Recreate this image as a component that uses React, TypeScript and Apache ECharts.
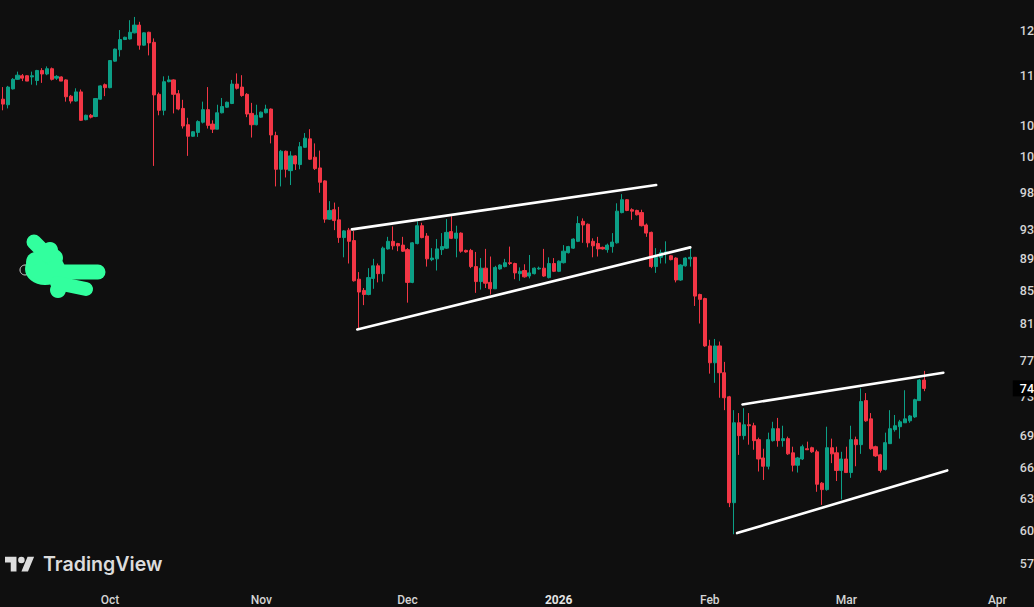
import { useEffect, useRef } from 'react';
import * as echarts from 'echarts';

// daily candles, price in thousands, 9 Sep 2025 to 17 Mar 2026
const opens = [
  112.2, 111.3, 113.9, 115.5, 116.1, 116.1, 115.9, 115.3, 117.0, 116.4,
  117.3, 115.7, 115.9, 115.4, 112.7, 111.9, 113.4, 108.9, 109.6, 109.4,
  112.2, 114.6, 114.1, 118.6, 120.6, 122.4, 122.5, 123.6, 125.0, 121.4,
  123.7, 121.9, 113.0, 110.4, 115.1, 115.4, 113.1, 110.7, 108.1, 106.3,
  106.9, 108.5, 110.5, 108.2, 107.4, 110.0, 110.9, 111.5, 114.7, 114.2,
  113.0, 109.9, 108.1, 109.3, 110.0, 110.6, 106.4, 101.3, 104.0, 101.1,
  103.3, 102.0, 104.6, 105.9, 103.1, 101.5, 99.6, 94.2, 95.5, 94.1,
  91.7, 92.7, 91.3, 86.3, 84.9, 84.4, 86.4, 88.0, 87.0, 90.2,
  91.2, 90.9, 90.7, 90.1, 85.9, 90.9, 93.3, 91.9, 88.8, 88.9,
  90.1, 90.3, 92.5, 91.6, 92.3, 90.0, 90.0, 87.9, 86.0, 87.7,
  85.9, 85.1, 87.6, 87.9, 88.4, 88.3, 87.0, 87.4, 86.7, 87.0,
  87.6, 87.7, 86.5, 88.3, 87.3, 88.4, 89.7, 90.3, 91.2, 93.9,
  93.5, 91.2, 90.9, 90.4, 90.1, 90.5, 91.0, 95.1, 96.9, 95.5,
  95.4, 95.1, 93.4, 92.4, 87.9, 89.1, 89.6, 89.3, 89.0, 86.2,
  88.0, 88.9, 89.1, 84.4, 83.9, 78.3, 76.4, 78.3, 75.3, 72.7,
  62.3, 70.0, 68.7, 69.8, 69.7, 68.3, 66.5, 65.7, 68.2, 69.4,
  68.2, 68.4, 67.0, 65.8, 66.4, 67.4, 67.5, 67.1, 64.1, 63.5,
  67.5, 67.0, 65.3, 66.4, 65.1, 68.3, 67.8, 72.3, 70.4, 67.6,
  66.8, 65.4, 67.9, 69.3, 69.6, 70.0, 70.2, 70.6, 72.3, 74.5,
];
const closes = [
  111.4, 114.2, 115.5, 116.2, 115.7, 115.2, 116.1, 117.0, 116.4, 117.3,
  115.5, 116.0, 115.2, 112.6, 111.9, 113.4, 108.8, 109.6, 109.3, 112.3,
  114.4, 114.1, 118.7, 120.7, 122.4, 122.8, 123.7, 125.0, 121.4, 123.6,
  121.8, 112.9, 110.4, 115.1, 115.4, 113.0, 110.6, 107.9, 106.3, 107.0,
  108.6, 110.5, 108.0, 107.4, 110.0, 111.0, 111.7, 114.7, 114.0, 112.8,
  109.8, 108.1, 109.6, 110.1, 110.6, 106.5, 101.3, 104.0, 101.3, 103.3,
  102.1, 104.7, 106.0, 102.8, 101.4, 99.4, 94.2, 95.4, 94.0, 91.7,
  92.6, 91.2, 86.1, 84.7, 84.4, 86.5, 88.0, 87.0, 90.3, 91.2,
  90.6, 90.6, 89.9, 85.9, 91.0, 93.3, 91.7, 88.9, 89.0, 90.2,
  90.5, 92.4, 91.6, 92.3, 89.9, 89.8, 87.9, 86.0, 87.7, 85.8,
  85.1, 87.8, 88.1, 88.4, 88.3, 87.1, 87.3, 86.6, 87.1, 87.7,
  87.7, 86.7, 88.3, 87.3, 88.6, 89.9, 90.5, 91.5, 93.6, 93.4,
  91.0, 90.6, 90.2, 90.2, 90.7, 91.1, 95.3, 96.9, 95.4, 95.3,
  94.8, 93.3, 92.3, 87.9, 89.1, 89.7, 89.8, 88.8, 86.2, 88.1,
  89.0, 89.1, 84.2, 83.8, 78.3, 76.4, 78.3, 75.3, 72.6, 62.3,
  70.0, 68.7, 69.8, 69.7, 68.2, 66.4, 65.7, 68.3, 69.4, 68.2,
  68.4, 66.9, 65.8, 66.5, 67.6, 67.3, 67.1, 64.0, 63.5, 67.5,
  66.9, 65.3, 66.4, 65.1, 68.3, 67.8, 72.2, 70.2, 67.4, 66.7,
  65.3, 68.0, 69.4, 69.7, 70.1, 70.4, 70.7, 72.4, 74.5, 73.6,
];
const lows = [
  110.4, 110.7, 113.8, 115.4, 115.2, 115.2, 114.6, 114.5, 114.9, 116.2,
  115.3, 115.4, 115.2, 111.8, 111.5, 111.8, 108.7, 108.8, 109.1, 109.3,
  112.1, 112.7, 114.0, 118.5, 119.4, 122.3, 122.4, 123.5, 120.6, 121.3,
  119.6, 101.8, 109.6, 109.6, 115.0, 109.9, 110.4, 107.5, 103.3, 106.2,
  106.2, 108.3, 107.5, 106.8, 107.4, 109.9, 110.8, 111.4, 113.8, 112.6,
  109.3, 106.1, 108.0, 109.2, 109.9, 105.2, 98.8, 98.8, 100.1, 99.0,
  101.2, 101.3, 104.5, 102.7, 101.2, 97.9, 93.7, 94.1, 92.7, 91.0,
  89.1, 88.3, 86.0, 80.3, 83.1, 84.3, 85.1, 85.9, 86.0, 90.1,
  90.1, 89.9, 89.8, 83.4, 85.8, 90.8, 91.6, 87.9, 88.6, 87.4,
  89.4, 90.2, 91.5, 89.1, 89.7, 89.7, 87.7, 84.6, 85.0, 85.2,
  84.4, 85.1, 87.5, 87.8, 88.1, 86.3, 86.1, 86.5, 86.4, 86.9,
  87.5, 86.6, 86.4, 87.2, 87.2, 88.3, 89.6, 90.2, 91.1, 91.0,
  90.4, 89.1, 89.2, 90.1, 89.7, 89.7, 90.9, 95.0, 95.3, 94.1,
  94.7, 93.2, 91.8, 87.7, 87.1, 88.3, 88.3, 88.7, 85.9, 86.1,
  87.9, 87.9, 83.0, 80.9, 78.2, 75.2, 74.2, 72.6, 71.3, 61.9,
  59.5, 66.8, 68.3, 67.8, 67.3, 65.2, 64.4, 65.4, 68.1, 67.6,
  67.6, 66.8, 65.2, 65.1, 66.3, 67.3, 67.0, 63.3, 62.1, 63.4,
  66.0, 64.3, 62.6, 65.1, 64.6, 65.7, 66.9, 70.1, 67.3, 66.6,
  65.1, 65.3, 67.9, 69.1, 68.4, 70.0, 70.0, 70.5, 72.3, 73.3,
];
const highs = [
  114.2, 114.4, 115.7, 116.8, 116.4, 116.2, 116.8, 117.1, 117.4, 117.7,
  117.5, 116.2, 116.0, 115.5, 112.9, 114.0, 113.8, 109.7, 109.8, 112.4,
  114.5, 114.8, 118.8, 120.8, 124.1, 122.9, 125.9, 126.5, 125.6, 123.7,
  123.8, 122.6, 113.3, 116.0, 116.1, 115.5, 113.7, 112.1, 109.2, 107.1,
  108.8, 111.8, 114.2, 108.8, 111.3, 112.4, 111.8, 115.4, 116.5, 116.2,
  113.2, 111.6, 111.3, 110.2, 111.3, 110.7, 107.0, 104.2, 104.1, 104.0,
  103.4, 105.4, 106.8, 107.4, 105.2, 104.1, 99.7, 96.7, 96.5, 95.9,
  92.7, 93.0, 92.6, 87.2, 85.2, 87.7, 88.9, 88.3, 90.5, 91.8,
  93.2, 91.0, 91.8, 90.3, 91.1, 93.9, 93.7, 92.3, 90.3, 91.5,
  92.3, 94.2, 94.6, 93.3, 92.4, 90.1, 90.2, 89.8, 89.0, 90.2,
  89.2, 88.0, 88.2, 88.9, 90.5, 88.4, 87.8, 88.2, 89.4, 87.8,
  87.9, 90.2, 89.1, 89.0, 88.7, 90.7, 90.6, 91.6, 94.6, 94.3,
  93.6, 91.6, 91.8, 90.5, 90.9, 92.3, 96.4, 97.7, 97.0, 95.7,
  95.5, 95.5, 93.6, 92.5, 90.3, 90.1, 91.2, 89.4, 89.1, 88.2,
  89.1, 90.3, 89.1, 84.5, 84.0, 79.0, 79.1, 78.8, 76.5, 72.8,
  71.3, 71.0, 71.5, 71.0, 70.0, 68.5, 67.4, 69.0, 70.1, 70.5,
  69.7, 68.6, 67.6, 66.6, 67.8, 68.1, 67.6, 67.3, 64.2, 69.6,
  68.4, 67.6, 67.1, 67.6, 69.7, 68.6, 73.6, 73.1, 71.0, 67.7,
  66.9, 69.0, 71.3, 70.8, 70.3, 73.4, 70.8, 72.5, 74.6, 75.5,
];

// drawn trendlines: day number from the first candle, price
const upperLeft = [[71.6, 92.8], [134.0, 99.0]];
const lowerLeft = [[72.7, 80.2], [141.0, 90.4]];
const upperRight = [[151.7, 71.9], [192.9, 75.3]];
const lowerRight = [[150.6, 59.6], [193.7, 65.3]];

// right scale, the picture is cropped so only two digits of each label remain
const priceTicks = [124.1, 116.2, 108, 103.2, 98, 92.8, 88.9, 84.9, 80.9, 76.7, 72.7, 68.7, 65.6, 62.7, 59.8, 57];
const priceLabels = ['12', '11', '10', '10', '98', '93', '89', '85', '81', '77', '73', '69', '66', '63', '60', '57'];
const lastPrice = 73.6;
const lastPriceLabel = '74';

const monthLabels: Record<string, string> = {
  '2025-10-01': 'Oct',
  '2025-11-01': 'Nov',
  '2025-12-01': 'Dec',
  '2026-01-01': '2026',
  '2026-02-01': 'Feb',
  '2026-03-01': 'Mar',
  '2026-04-01': 'Apr',
};

const DAY_COUNT = 212;
const days: string[] = [];
for (let i = 0; i < DAY_COUNT; i++) {
  days.push(new Date(Date.UTC(2025, 8, 9 + i)).toISOString().slice(0, 10));
}

const RED = '#f23645';
const GREEN = '#0c9f86';
const SCRIBBLE = '#32ff9e';

echarts.graphic.registerShape(
  'tvLogo',
  echarts.graphic.extendPath(
    'M14 22H7V11H0V4h14v18zM28 22h-8l7.5-18h8L28 22zM24 8a4 4 0 1 1-8 0a4 4 0 1 1 8 0z',
    {}
  )
);

const scribbleStroke = (points: number[][], width: number) => ({
  type: 'polyline',
  z: 100,
  shape: { points },
  style: { fill: 'none', stroke: SCRIBBLE, lineWidth: width, lineCap: 'round', lineJoin: 'round' },
});

const scribbleDot = (cx: number, cy: number, r: number) => ({
  type: 'circle',
  z: 100,
  shape: { cx, cy, r },
  style: { fill: SCRIBBLE },
});

const trendline = (data: number[][]) => ({
  type: 'line',
  xAxisIndex: 1,
  data,
  showSymbol: false,
  silent: true,
  z: 10,
  lineStyle: { color: '#ffffff', width: 2.6, cap: 'round' },
});

export default function App() {
  const chartRef = useRef<HTMLDivElement>(null);

  useEffect(() => {
    if (!chartRef.current) return;

    const chart = echarts.init(chartRef.current, undefined, { renderer: 'svg' });

    const candles = opens.map((open, i) => [open, closes[i], lows[i], highs[i]]);

    chart.setOption({
      animation: false,
      backgroundColor: '#0f0f0f',
      grid: { left: 0.4, right: 0, top: 0, bottom: 27, outerBoundsMode: 'none' },
      xAxis: [
        {
          type: 'category',
          data: days,
          axisLine: { show: false },
          axisTick: { show: false },
          splitLine: { show: false },
          axisLabel: {
            interval: (_: number, value: string) => value in monthLabels,
            formatter: (value: string) =>
              value === '2026-01-01' ? `{year|${monthLabels[value]}}` : monthLabels[value] ?? '',
            color: '#d4d4d4',
            fontFamily: 'Roboto',
            fontSize: 12,
            fontWeight: 500,
            margin: 14,
            rich: {
              year: { color: '#e4e4e4', fontFamily: 'Roboto', fontSize: 12, fontWeight: 700 },
            },
          },
        },
        { type: 'value', show: false, min: -0.5, max: DAY_COUNT - 0.5 },
      ],
      yAxis: {
        type: 'log',
        min: 55.66,
        max: 129.66,
        position: 'right',
        axisLine: { show: false },
        axisTick: { show: false },
        splitLine: { show: false },
        axisLabel: {
          inside: true,
          margin: 0,
          customValues: [...priceTicks, lastPrice],
          formatter: (value: number) => {
            if (value === lastPrice) return `{tag|${lastPriceLabel}}`;
            return priceLabels[priceTicks.indexOf(value)];
          },
          color: '#d4d4d4',
          fontFamily: 'Roboto',
          fontSize: 12.5,
          fontWeight: 500,
          rich: {
            tag: {
              color: '#ffffff',
              backgroundColor: '#000000',
              fontFamily: 'Roboto',
              fontSize: 12.5,
              fontWeight: 500,
              padding: [2, 0, 1, 7],
            },
          },
        },
      },
      series: [
        {
          type: 'candlestick',
          data: candles,
          barWidth: 3.6,
          itemStyle: {
            color: GREEN,
            color0: RED,
            borderColor: GREEN,
            borderColor0: RED,
            borderWidth: 1,
          },
        },
        trendline(upperLeft),
        trendline(lowerLeft),
        trendline(upperRight),
        trendline(lowerRight),
      ],
      graphic: [
        {
          type: 'circle',
          z: 90,
          shape: { cx: 25, cy: 270, r: 5 },
          style: { fill: 'none', stroke: '#d4d4d4', lineWidth: 1 },
        },
        { type: 'ellipse', z: 100, shape: { cx: 45, cy: 269, rx: 20, ry: 16 }, style: { fill: SCRIBBLE } },
        scribbleDot(36, 262, 10),
        scribbleDot(54, 258, 9),
        scribbleDot(50, 250, 8),
        scribbleDot(58, 290, 8),
        scribbleStroke([[34, 242], [47, 255]], 15),
        scribbleStroke([[37, 272], [98, 272]], 15),
        scribbleStroke([[57, 283], [86, 289]], 14),
        {
          type: 'tvLogo',
          z: 100,
          x: 5,
          y: 553.5,
          scaleX: 0.82,
          scaleY: 0.82,
          style: { fill: '#dcdcdc' },
        },
        {
          type: 'text',
          z: 100,
          x: 43,
          y: 553.5,
          style: {
            text: 'TradingView',
            fill: '#dcdcdc',
            fontFamily: 'Inter',
            fontSize: 19.6,
            fontWeight: 600,
          },
        },
      ],
    });

    return () => chart.dispose();
  }, []);

  return <div ref={chartRef} style={{ position: 'fixed', left: 0, top: 0, width: 1034, height: 607 }} />;
}
